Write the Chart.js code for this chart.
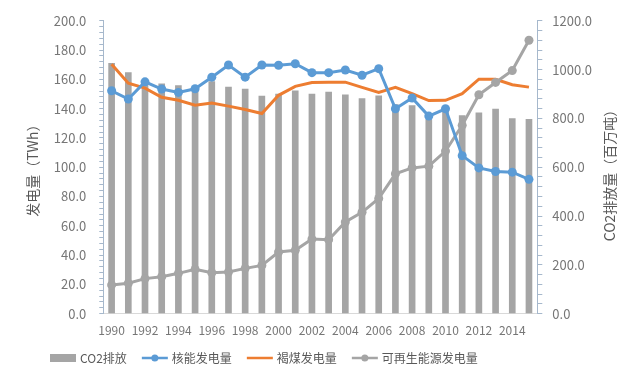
<!DOCTYPE html>
<html>
<head>
<meta charset="utf-8">
<script src="https://cdn.jsdelivr.net/npm/chart.js@4.4.1/dist/chart.umd.min.js"></script>
<style>
  html, body { margin: 0; padding: 0; background: #fff; }
  #wrap { width: 640px; height: 388px; }
</style>
</head>
<body>
<div id="wrap"><canvas id="chart"></canvas></div>
<script>
const years = ['1990','1991','1992','1993','1994','1995','1996','1997','1998','1999','2000','2001','2002',
               '2003','2004','2005','2006','2007','2008','2009','2010','2011','2012','2013','2014','2015'];
// CO2排放 (百万吨), right axis
const co2 = [1026, 988, 955, 942, 934, 922, 951, 928, 920, 891, 900, 913, 900,
             908, 897, 881, 893, 857, 853, 795, 833, 812, 823, 838, 799, 796];
// 核能发电量 (TWh)
const nuclear = [152.2, 146.6, 158.3, 153.4, 151.1, 153.6, 161.5, 169.8, 161.5, 169.8, 169.6, 170.7, 164.6,
                 164.6, 166.4, 162.8, 167.3, 139.9, 147.3, 134.9, 139.9, 107.9, 99.5, 97.1, 96.6, 91.7];
// 褐煤发电量 (TWh)
const lignite = [170.3, 157.4, 154.0, 147.8, 145.7, 142.4, 143.9, 141.7, 139.4, 136.7, 149.1, 155.2, 157.9,
                 158.1, 158.1, 154.5, 151.1, 154.5, 150.2, 145.5, 145.7, 150.2, 160.1, 160.1, 156.3, 154.7];
// 可再生能源发电量 (TWh)
const renewable = [19.6, 20.7, 23.9, 25.2, 27.5, 30.2, 27.9, 28.4, 30.9, 32.9, 42.1, 43.2, 50.9,
                   50.5, 62.6, 69.2, 78.6, 95.5, 99.5, 100.7, 111.0, 128.6, 149.5, 157.9, 166.0, 186.7];

const leftTicks = [0, 20, 40, 60, 80, 100, 120, 140, 160, 180, 200];
const rightTicks = [0, 200, 400, 600, 800, 1000, 1200];

const GREY = '#A5A5A5';
const BLUE = '#5B9BD5';
const ORANGE = '#ED7D31';
const TEXT = '#595959';
const TICK = '#767676';
const AXIS = '#A6B8CC';
const FONT = "'Noto Sans CJK SC', 'Open Sans', sans-serif";

// legend: symbol kind per dataset, drawn under the plot
const legendKinds = ['bar', 'marker', 'line', 'marker'];

const legendBox = {
  id: 'legendBox',
  afterDraw(chart) {
    const ctx = chart.ctx;
    const y = 358;
    let x = 50;
    ctx.save();
    ctx.font = '12px ' + FONT;
    ctx.textBaseline = 'middle';
    chart.data.datasets.forEach((ds, i) => {
      const color = ds.borderColor || ds.backgroundColor;
      const kind = legendKinds[i];
      if (kind === 'bar') {
        ctx.fillStyle = ds.backgroundColor;
        ctx.fillRect(x, y - 4, 26, 8);
      } else {
        ctx.strokeStyle = color;
        ctx.lineWidth = 2.5;
        ctx.beginPath(); ctx.moveTo(x, y); ctx.lineTo(x + 26, y); ctx.stroke();
        if (kind === 'marker') {
          ctx.fillStyle = color;
          ctx.beginPath(); ctx.arc(x + 13, y, 3.5, 0, Math.PI * 2); ctx.fill();
        }
      }
      ctx.fillStyle = TEXT;
      ctx.fillText(ds.label, x + 30, y);
      x += 30 + ctx.measureText(ds.label).width + 15;
    });
    ctx.restore();
  }
};

const rightTitle = {
  id: 'rightTitle',
  afterDraw(chart) {
    const ctx = chart.ctx;
    ctx.save();
    ctx.translate(610, 172);
    ctx.rotate(-Math.PI / 2);
    ctx.font = '14px ' + FONT;
    ctx.fillStyle = TEXT;
    ctx.textAlign = 'center';
    ctx.textBaseline = 'middle';
    ctx.fillText('CO2排放量（百万吨）', 0, 0);
    ctx.restore();
  }
};

new Chart(document.getElementById('chart'), {
  type: 'bar',
  data: {
    labels: years,
    datasets: [
      { type: 'bar', label: 'CO2排放', data: co2, yAxisID: 'y1', backgroundColor: GREY,
        barThickness: 6, order: 4 },
      { type: 'line', label: '核能发电量', data: nuclear, yAxisID: 'y', borderColor: BLUE, backgroundColor: BLUE,
        borderWidth: 3, pointRadius: 4.5, pointBackgroundColor: BLUE, pointBorderWidth: 0, tension: 0, order: 1 },
      { type: 'line', label: '褐煤发电量', data: lignite, yAxisID: 'y', borderColor: ORANGE, backgroundColor: ORANGE,
        borderWidth: 3, pointRadius: 0, tension: 0, order: 3 },
      { type: 'line', label: '可再生能源发电量', data: renewable, yAxisID: 'y', borderColor: GREY, backgroundColor: GREY,
        borderWidth: 3, pointRadius: 4.5, pointBackgroundColor: GREY, pointBorderWidth: 0, tension: 0, order: 2 }
    ]
  },
  options: {
    responsive: true,
    maintainAspectRatio: false,
    animation: false,
    layout: { padding: { top: 6, right: 38, left: 18, bottom: 40 } },
    plugins: {
      tooltip: { enabled: false },
      legend: { display: false }
    },
    scales: {
      x: {
        offset: true,
        grid: { display: false, drawTicks: false },
        border: { color: '#D9D9D9' },
        ticks: {
          color: TICK, font: { family: FONT, size: 12 }, autoSkip: false, maxRotation: 0, padding: 10,
          callback(v, i) { return i % 2 === 0 ? years[i] : ''; }
        }
      },
      y: {
        position: 'left',
        min: 0, max: 200,
        afterBuildTicks(axis) {
          const t = [];
          for (let v = 0; v <= 200; v += 4) t.push({ value: v });
          axis.ticks = t;
        },
        grid: { drawOnChartArea: false, tickLength: 4, color: AXIS },
        border: { color: AXIS },
        ticks: {
          color: TICK, font: { family: FONT, size: 13 }, padding: 13, autoSkip: false,
          callback(v) { return leftTicks.includes(v) ? v.toFixed(1) : ''; }
        },
        title: { display: true, text: '发电量（TWh）', color: TEXT, font: { family: FONT, size: 14 },
                 padding: { top: 6, bottom: 0 } }
      },
      y1: {
        position: 'right',
        min: 0, max: 1200,
        afterBuildTicks(axis) {
          const t = [];
          for (let v = 0; v <= 1200; v += 40) t.push({ value: v });
          axis.ticks = t;
        },
        grid: { drawOnChartArea: false, tickLength: 5, color: AXIS },
        border: { color: AXIS },
        ticks: {
          color: TICK, font: { family: FONT, size: 13 }, padding: 10, autoSkip: false,
          callback(v) { return rightTicks.includes(v) ? v.toFixed(1) : ''; }
        }
      }
    }
  },
  plugins: [legendBox, rightTitle]
});
</script>
</body>
</html>
